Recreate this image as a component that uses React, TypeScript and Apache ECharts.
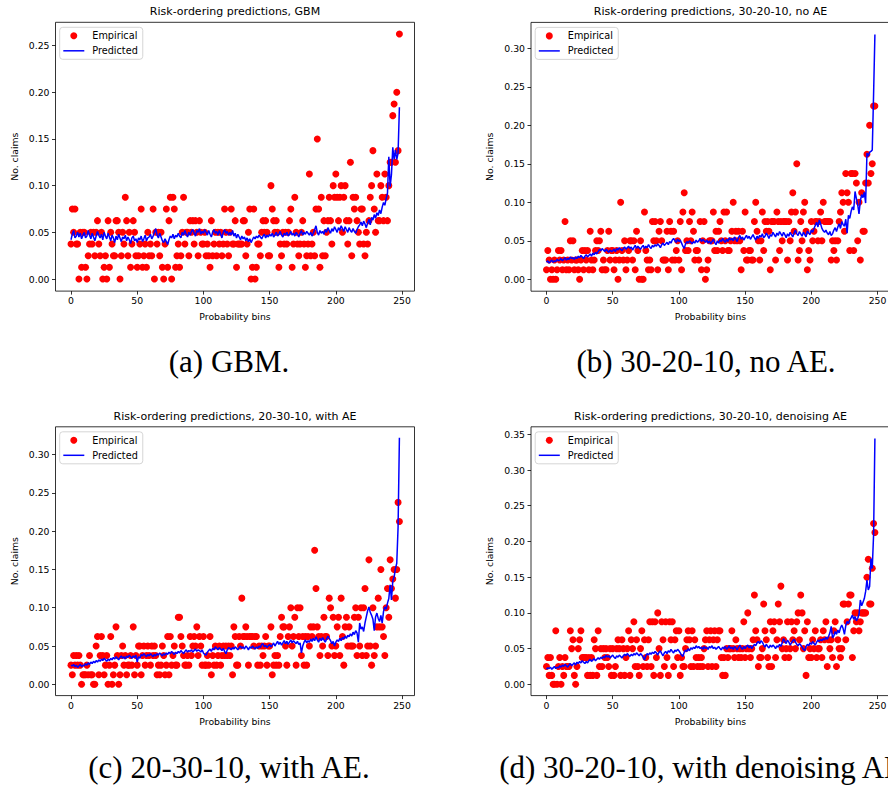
import React, { useEffect, useRef } from "react";
import * as echarts from "echarts";

// Empirical values are read as counts of 1/80 (value = count * 0.0125)
const CLAIM_STEP = 0.0125;

const xTicks = [0, 50, 100, 150, 200, 250];
const yTicks30 = [0, 0.05, 0.1, 0.15, 0.2, 0.25, 0.3];
const yTicks25 = [0, 0.05, 0.1, 0.15, 0.2, 0.25];
const yTicks35 = [0, 0.05, 0.1, 0.15, 0.2, 0.25, 0.3, 0.35];

const titles = [
  "Risk-ordering predictions, GBM",
  "Risk-ordering predictions, 30-20-10, no AE",
  "Risk-ordering predictions, 20-30-10, with AE",
  "Risk-ordering predictions, 30-20-10, denoising AE",
];
const captions = [
  "(a) GBM.",
  "(b) 30-20-10, no AE.",
  "(c) 20-30-10, with AE.",
  "(d) 30-20-10, with denoising AE.",
];

// (a) GBM
const gbmEmpiricalCount = [
  3,6,4,6,3,3,0,4,1,4, 4,1,0,2,3,4,3,4,2,4, 5,3,2,4,0,1,2,0,5,1, 4,3,2,2,5,5,4,0,2,4,
  3,7,5,2,4,1,3,5,4,2, 1,2,3,6,1,2,3,1,4,2, 3,2,6,0,4,3,4,2,4,1, 0,3,6,1,5,7,0,7,6,1,
  2,3,1,2,4,7,3,4,4,2, 5,4,5,3,5,4,2,5,4,3, 3,4,2,3,2,1,5,2,3,4, 2,4,3,4,2,3,6,4,3,2,
  4,6,3,3,5,1,3,3,3,3, 5,5,2,3,4,6,0,1,6,0, 1,3,3,2,4,5,4,5,4,2, 2,8,6,5,4,5,4,1,3,2,
  4,3,4,3,4,5,6,1,3,7, 4,3,2,3,4,5,3,1,2,3, 9,2,3,4,2,6,12,6,1,7, 2,5,2,4,5,7,5,3,8,7,
  9,7,5,7,8,4,7,8,5,3, 5,10,2,7,6,7,5,4,3,6, 6,3,2,4,3,5,7,8,11,6, 4,9,5,5,8,7,5,9,7,5,
  8,10,10,14,15,10,16,11,21,
];
const gbmPredicted = [
  .042,.048,.052,.044,.046,.050,.045,.049,.043,.047, .050,.044,.046,.052,.047,.043,.049,.045,.041,.046,
  .051,.047,.044,.048,.042,.050,.046,.043,.049,.045, .041,.047,.044,.039,.046,.042,.048,.044,.040,.045,
  .043,.047,.041,.045,.042,.038,.044,.046,.041,.043, .039,.044,.042,.046,.040,.043,.047,.041,.044,.045,
  .048,.043,.046,.050,.054,.047,.044,.049,.045,.041, .039,.043,.040,.037,.042,.046,.044,.048,.043,.047,
  .045,.049,.046,.044,.050,.047,.052,.048,.045,.050, .047,.051,.053,.049,.046,.052,.050,.054,.048,.051,
  .049,.053,.050,.047,.052,.048,.045,.050,.053,.049, .051,.047,.052,.048,.044,.050,.053,.049,.051,.047,
  .050,.047,.052,.046,.049,.044,.048,.045,.042,.046, .043,.045,.041,.044,.040,.043,.039,.042,.045,.043,
  .046,.044,.047,.045,.043,.046,.048,.044,.047,.045, .048,.046,.049,.045,.047,.050,.046,.048,.051,.047,
  .045,.049,.047,.050,.046,.048,.051,.047,.049,.046, .050,.048,.045,.049,.052,.047,.050,.048,.051,.049,
  .047,.050,.046,.049,.053,.057,.050,.047,.052,.049, .051,.048,.053,.050,.055,.052,.049,.054,.051,.056,
  .053,.050,.055,.052,.057,.054,.051,.056,.053,.050, .055,.052,.050,.054,.051,.049,.053,.056,.058,.061,
  .057,.062,.059,.055,.060,.064,.058,.066,.063,.069, .065,.071,.068,.074,.070,.077,.082,.079,.086,.092,
  .131,.099,.112,.141,.128,.138,.128,.135,.184,
];

// (b) 30-20-10, no AE
const noAeEmpiricalCount = [
  1,3,2,0,1,0,2,0,1,3, 2,3,1,2,6,1,2,1,4,2, 4,1,2,2,1,0,2,3,1,3, 2,3,1,5,2,1,2,3,4,3,
  4,5,1,2,1,1,3,5,2,3, 3,1,2,3,0,2,8,3,2,4, 1,2,3,4,4,2,4,1,5,3, 0,4,0,0,7,3,2,1,2,1,
  6,4,6,4,1,5,6,4,2,2, 2,5,1,6,5,2,5,2,3,4, 2,6,1,7,9,3,4,3,6,4, 7,5,2,3,3,2,6,1,4,6,
  0,1,2,4,4,4,7,3,5,3, 5,6,4,3,7,4,7,3,3,4, 5,8,4,5,4,5,4,1,5,3, 7,2,2,3,3,2,2,6,8,5,
  4,2,4,7,3,6,5,6,5,1, 6,6,6,2,7,6,3,6,4,6, 6,6,2,6,4,7,9,5,7,12, 2,3,6,4,7,8,5,1,3,2,
  6,4,5,6,6,4,6,7,4,8, 6,6,6,6,6,2,4,3,4,2, 4,6,7,9,8,5,11,9,8,3, 11,11,3,11,10,4,8,2,9,5,
  5,10,13,10,16,11,12,18,18,
];
const noAePredicted = [
  .022,.024,.021,.023,.025,.022,.024,.023,.026,.024, .025,.027,.024,.026,.028,.025,.027,.026,.029,.027,
  .028,.026,.029,.027,.030,.028,.031,.029,.027,.030, .032,.029,.031,.033,.030,.034,.032,.035,.033,.036,
  .039,.037,.040,.038,.036,.039,.037,.035,.038,.036, .037,.039,.036,.040,.038,.041,.039,.037,.040,.042,
  .039,.041,.043,.040,.042,.038,.041,.044,.040,.043, .041,.039,.042,.044,.040,.043,.041,.045,.042,.040,
  .044,.042,.045,.043,.046,.044,.041,.045,.047,.044, .046,.048,.045,.049,.047,.051,.053,.050,.048,.052,
  .049,.051,.047,.043,.040,.046,.049,.047,.050,.048, .046,.049,.047,.051,.048,.050,.053,.049,.052,.050,
  .048,.051,.047,.050,.046,.049,.052,.048,.045,.050, .047,.051,.049,.053,.050,.048,.052,.049,.054,.051,
  .053,.050,.055,.052,.049,.054,.057,.052,.055,.051, .054,.057,.053,.056,.052,.055,.058,.054,.051,.056,
  .053,.057,.055,.059,.054,.056,.060,.057,.053,.058, .056,.061,.058,.055,.060,.057,.062,.059,.056,.061,
  .058,.054,.059,.056,.061,.058,.055,.060,.064,.059, .057,.062,.059,.056,.061,.058,.055,.063,.060,.058,
  .064,.061,.066,.070,.074,.068,.077,.072,.066,.063, .061,.064,.060,.058,.062,.057,.059,.064,.067,.062,
  .068,.072,.066,.075,.071,.069,.078,.060,.083,.079, .088,.094,.090,.114,.105,.097,.085,.102,.110,.106,
  .113,.099,.164,.160,.165,.166,.168,.240,.318,
];

// (c) 20-30-10, with AE
const withAeEmpiricalCount = [
  2,1,3,2,3,2,3,2,0,1, 1,1,2,1,3,1,1,0,0,4, 5,1,3,5,3,1,2,3,0,2, 5,0,1,2,6,3,0,1,3,4,
  2,3,1,2,2,3,2,6,1,3, 2,4,4,1,3,4,2,3,4,3, 2,4,3,4,3,1,2,1,2,4, 3,1,2,5,1,5,2,3,4,2,
  2,7,7,5,4,3,2,2,3,2, 5,3,4,5,4,6,3,5,4,2, 5,2,2,3,2,5,1,3,2,4, 2,3,4,2,3,4,3,4,3,4,
  3,4,1,6,5,2,2,5,4,9, 5,5,6,5,2,5,5,5,4,5, 5,2,4,2,4,3,4,5,2,4, 4,6,1,2,3,2,3,2,5,7,
  6,6,4,2,5,6,8,4,5,7, 2,8,5,8,3,5,2,5,2,5, 4,6,5,6,14,10,6,5,3,5, 4,7,5,5,3,9,8,4,7,3,
  4,6,7,3,9,5,2,6,7,4, 6,4,4,4,7,8,3,7,4,8, 3,8,10,3,4,13,4,2,8,3, 4,6,9,6,12,6,5,3,8,10,
  7,13,10,11,12,9,12,19,17,
];
const withAePredicted = [
  .025,.024,.026,.023,.025,.022,.024,.026,.023,.025, .024,.027,.025,.028,.026,.029,.027,.030,.028,.031,
  .029,.032,.030,.033,.031,.034,.032,.030,.033,.031, .034,.032,.035,.033,.036,.034,.032,.035,.037,.034,
  .036,.033,.037,.035,.038,.036,.034,.037,.035,.038, .029,.036,.034,.039,.037,.040,.038,.036,.039,.037,
  .040,.038,.036,.039,.037,.040,.038,.041,.039,.037, .040,.038,.041,.039,.042,.040,.043,.041,.039,.042,
  .040,.043,.041,.044,.042,.040,.043,.045,.042,.044, .043,.045,.042,.044,.046,.043,.045,.044,.042,.045,
  .041,.039,.038,.042,.044,.046,.043,.047,.045,.049, .047,.045,.048,.046,.044,.047,.043,.040,.045,.048,
  .047,.045,.048,.046,.049,.047,.045,.048,.050,.047, .049,.046,.050,.048,.045,.049,.047,.050,.048,.046,
  .049,.047,.050,.048,.052,.053,.049,.051,.048,.050, .052,.049,.051,.054,.050,.053,.056,.052,.055,.051,
  .054,.057,.053,.056,.052,.055,.058,.054,.057,.055, .053,.056,.052,.054,.041,.050,.055,.058,.054,.057,
  .055,.059,.056,.060,.057,.062,.058,.055,.060,.057, .061,.058,.055,.059,.063,.060,.057,.053,.056,.050,
  .055,.058,.056,.060,.057,.061,.059,.063,.060,.064, .062,.066,.063,.068,.065,.070,.067,.055,.080,.072,
  .075,.069,.080,.088,.096,.101,.094,.090,.085,.070, .088,.093,.086,.082,.090,.080,.095,.101,.098,.106,
  .112,.130,.110,.135,.140,.151,.158,.205,.322,
];

// (d) 30-20-10, with denoising AE
const denoisingEmpiricalCount = [
  2,3,1,3,1,0,0,6,0,2, 3,0,2,1,3,2,2,2,6,4, 5,1,0,2,4,5,6,3,3,3, 3,1,3,1,3,1,5,4,1,6,
  2,4,2,4,3,4,3,2,4,1, 4,1,2,4,5,4,1,5,4,1, 3,4,6,1,5,4,7,2,5,2, 1,4,6,2,5,3,2,5,7,2,
  7,1,7,3,8,4,1,7,5,2, 7,3,1,7,5,7,2,5,6,3, 6,1,3,2,2,4,5,6,5,2, 6,2,5,3,2,3,2,3,2,4,
  5,6,2,5,6,2,5,6,2,5, 6,6,3,1,3,1,4,3,4,4, 6,4,3,5,4,3,4,3,4,7, 3,4,8,4,3,4,5,10,6,5,
  2,3,3,4,9,6,5,3,2,7, 2,6,7,3,5,9,7,11,4,5, 3,4,7,3,4,7,5,6,4,7, 8,5,10,8,4,6,1,7,3,4,
  3,5,4,6,3,4,4,5,3,6, 5,7,2,5,4,5,3,6,7,2, 5,4,3,4,9,9,5,7,9,10, 10,3,6,8,7,8,6,7,8,8,
  8,8,12,14,9,9,13,18,17,
];
const denoisingPredicted = [
  .021,.023,.022,.024,.021,.023,.025,.022,.024,.023, .026,.024,.027,.025,.028,.026,.024,.027,.029,.026,
  .028,.030,.027,.031,.029,.032,.030,.033,.031,.029, .032,.030,.033,.035,.032,.034,.036,.033,.035,.037,
  .035,.038,.036,.039,.037,.041,.038,.040,.037,.039, .041,.038,.036,.040,.038,.041,.039,.037,.040,.042,
  .040,.043,.041,.039,.042,.040,.043,.041,.044,.042, .040,.043,.041,.038,.034,.040,.043,.041,.044,.042,
  .045,.043,.046,.044,.041,.045,.047,.043,.040,.044, .046,.043,.047,.045,.049,.046,.044,.048,.046,.049,
  .047,.044,.041,.039,.045,.048,.046,.050,.047,.051, .049,.052,.050,.054,.051,.053,.050,.052,.049,.053,
  .050,.052,.049,.053,.051,.054,.050,.052,.049,.051, .053,.050,.048,.052,.050,.053,.049,.051,.054,.050,
  .052,.049,.053,.051,.048,.052,.055,.051,.049,.053, .050,.053,.055,.051,.054,.050,.053,.056,.054,.058,
  .060,.057,.061,.059,.055,.052,.056,.053,.051,.055, .052,.055,.053,.050,.054,.052,.056,.053,.058,.064,
  .060,.057,.062,.059,.055,.058,.061,.063,.059,.056, .054,.057,.055,.052,.049,.047,.053,.056,.054,.058,
  .056,.060,.057,.055,.059,.062,.060,.063,.061,.064, .062,.066,.063,.067,.072,.081,.065,.068,.074,.070,
  .076,.072,.079,.083,.078,.070,.082,.088,.085,.090, .093,.097,.091,.095,.089,.092,.098,.118,.110,.115,
  .120,.130,.146,.132,.137,.176,.162,.209,.344,
];

const X_MIN = -11.7;
const X_MAX = 259.4;
const GRID_W = 359;
const GRID_H = 268.8;

const panels = [
  { emp: gbmEmpiricalCount, pred: gbmPredicted, yMin: -0.01296, yMax: 0.275, ticks: yTicks25, left: 55.5, top: 22.3, capX: 229, capY: 361 },
  { emp: noAeEmpiricalCount, pred: noAePredicted, yMin: -0.01545, yMax: 0.3336, ticks: yTicks30, left: 531, top: 22.4, capX: 706, capY: 361 },
  { emp: withAeEmpiricalCount, pred: withAePredicted, yMin: -0.01475, yMax: 0.3362, ticks: yTicks30, left: 55.5, top: 426.8, capX: 229, capY: 767 },
  { emp: denoisingEmpiricalCount, pred: denoisingPredicted, yMin: -0.0158, yMax: 0.3605, ticks: yTicks35, left: 531, top: 426.8, capX: 705, capY: 767 },
];

const SANS = "DejaVu Sans";
const LINE_ICON = "path://M0,0L21,0L21,1.5L0,1.5Z";

export default function App() {
  const ref = useRef<HTMLDivElement>(null);
  useEffect(() => {
    if (!ref.current) return;
    const chart = echarts.init(ref.current, undefined, { renderer: "svg" });

    const grid = panels.map((p) => ({
      left: p.left, top: p.top, width: GRID_W, height: GRID_H,
      show: true, borderColor: "#000", borderWidth: 0.8, backgroundColor: "transparent",
      containLabel: false, outerBoundsMode: "none",
    }));
    const xAxis = panels.map((p, i) => ({
      type: "value", gridIndex: i, min: X_MIN, max: X_MAX,
      splitLine: { show: false },
      axisLine: { show: false, onZero: false },
      axisTick: { show: true, customValues: xTicks, length: 3.5, lineStyle: { color: "#000", width: 0.8 } },
      axisLabel: { customValues: xTicks, fontSize: 9.3, fontFamily: SANS, color: "#000", margin: 5 },
      name: "Probability bins", nameLocation: "middle", nameGap: 21,
      nameTextStyle: { fontSize: 9.3, fontFamily: SANS, color: "#000" },
    }));
    const yAxis = panels.map((p, i) => ({
      type: "value", gridIndex: i, min: p.yMin, max: p.yMax,
      splitLine: { show: false },
      axisLine: { show: false, onZero: false },
      axisTick: { show: true, customValues: p.ticks, length: 3.5, lineStyle: { color: "#000", width: 0.8 } },
      axisLabel: { customValues: p.ticks, fontSize: 9.3, fontFamily: SANS, color: "#000", margin: 6,
        formatter: (v: number) => v.toFixed(2) },
      name: "No. claims", nameLocation: "middle", nameRotate: 90, nameGap: 37,
      nameTextStyle: { fontSize: 9.3, fontFamily: SANS, color: "#000" },
    }));
    const series: any[] = [];
    panels.forEach((p, i) => {
      series.push({
        type: "scatter", name: "Empirical", xAxisIndex: i, yAxisIndex: i,
        data: p.emp.map((c, b) => [b, c * CLAIM_STEP]),
        symbol: "circle", symbolSize: 7, itemStyle: { color: "#ff0000", opacity: 1 },
        silent: true,
      });
      series.push({
        type: "line", name: "Predicted", xAxisIndex: i, yAxisIndex: i,
        data: p.pred.map((v, b) => [b, v]),
        symbol: "none", showSymbol: false,
        lineStyle: { color: "#0000ff", width: 1.5 }, itemStyle: { color: "#0000ff" },
        silent: true,
      });
    });
    const legend = panels.map((p) => ({
      left: p.left + 4.2, top: p.top + 5,
      orient: "vertical", itemWidth: 21, itemHeight: 7, itemGap: 4,
      padding: [3, 5, 3, 3.6],
      borderColor: "#cccccc", borderWidth: 0.8, borderRadius: 3,
      backgroundColor: "rgba(255,255,255,0.8)",
      textStyle: { fontSize: 9.7, fontFamily: SANS, color: "#000", padding: [0, 0, 0, 3], lineHeight: 11 },
      selectedMode: false,
      data: [
        { name: "Empirical", icon: "circle" },
        { name: "Predicted", icon: LINE_ICON, itemStyle: { color: "#0000ff" } },
      ],
    }));
    const graphic: any[] = [];
    panels.forEach((p, i) => {
      graphic.push({
        type: "text", x: p.left + GRID_W / 2, y: p.top - 10.5,
        style: { text: titles[i], fontSize: 11, fontFamily: SANS, fill: "#000",
          align: "center", verticalAlign: "middle", textAlign: "center", textVerticalAlign: "middle" },
      });
      graphic.push({
        type: "text", x: p.capX, y: p.capY,
        style: { text: captions[i], fontSize: 31, fontFamily: "Liberation Serif", fill: "#000",
          align: "center", verticalAlign: "middle", textAlign: "center", textVerticalAlign: "middle" },
      });
    });

    chart.setOption({
      animation: false,
      backgroundColor: "#ffffff",
      grid, xAxis, yAxis, series, legend, graphic,
      tooltip: { show: false },
    });
    return () => chart.dispose();
  }, []);
  return (
    <div
      ref={ref}
      style={{ position: "absolute", left: 0, top: 0, width: 888, height: 787, background: "#fff" }}
    />
  );
}
